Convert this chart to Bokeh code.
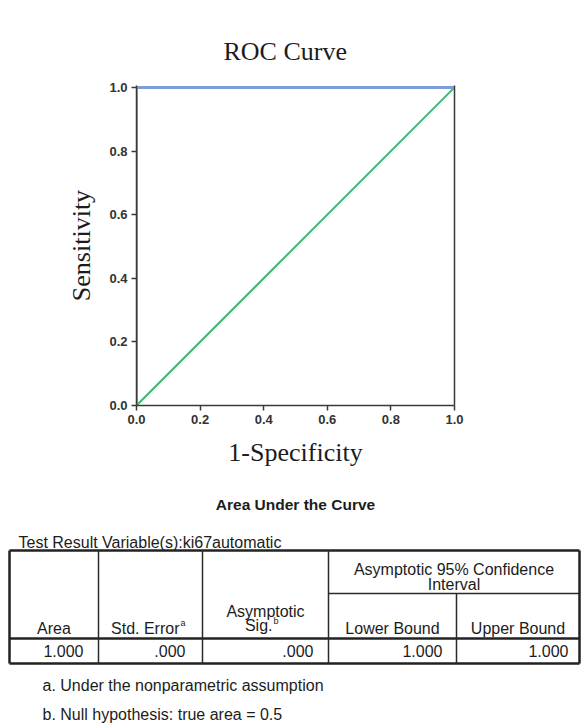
from bokeh.plotting import figure
from bokeh.models import Range1d, LinearAxis, FixedTicker
from bokeh.embed import file_html
from bokeh.resources import INLINE
from bokeh.core.properties import value

# ---------------- data ----------------
fpr = [0.0, 0.0, 1.0]          # ROC curve (1-Specificity)
tpr = [0.0, 1.0, 1.0]          # ROC curve (Sensitivity)
ref_x = [0.0, 1.0]             # reference line
ref_y = [0.0, 1.0]
tick_values = [0.0, 0.2, 0.4, 0.6, 0.8, 1.0]
tick_labels = ["0.0", "0.2", "0.4", "0.6", "0.8", "1.0"]

chart_title = "ROC Curve"
x_label = "1-Specificity"
y_label = "Sensitivity"

table_title = "Area Under the Curve"
test_variable = "ki67automatic"
ci_header = ["Asymptotic 95% Confidence", "Interval"]
col_headers = ["Area", "Std. Error", "Asymptotic", "Lower Bound", "Upper Bound"]
row_values = ["1.000", ".000", ".000", "1.000", "1.000"]
footnotes = ["a. Under the nonparametric assumption",
             "b. Null hypothesis: true area = 0.5"]

SERIF = "Liberation Serif"
SANS = "Liberation Sans"
INK = "#1c1c1c"
AXIS = "#3a3a3a"

# ---------------- ROC figure ----------------
p = figure(width=581, height=480,
           x_range=Range1d(0, 1), y_range=Range1d(0, 1.006),
           output_backend="svg", toolbar_location=None,
           min_border_left=136, min_border_right=127,
           min_border_top=85, min_border_bottom=75,
           title=chart_title)
p.background_fill_color = "white"
p.border_fill_color = "white"
p.outline_line_color = None
p.grid.visible = False

p.title.text_font = SERIF
p.title.text_font_size = "26px"
p.title.text_font_style = "normal"
p.title.text_color = INK
p.title.align = "left"
p.title.offset = 87
p.title.standoff = 39

p.line(ref_x, ref_y, line_color="#3DB872", line_width=2)
p.line(fpr, tpr, line_color="#7E9ED8", line_width=3)

for ax in (p.xaxis[0], p.yaxis[0]):
    ax.ticker = FixedTicker(ticks=tick_values)
    ax.major_label_overrides = {v: s for v, s in zip(tick_values, tick_labels)}
    ax.minor_tick_line_color = None
    ax.major_tick_in = 0
    ax.major_tick_out = 5
    ax.major_tick_line_color = AXIS
    ax.major_tick_line_width = 1.5
    ax.axis_line_color = AXIS
    ax.axis_line_width = 1.5
    ax.major_label_text_font = SANS
    ax.major_label_text_font_size = "13px"
    ax.major_label_text_font_style = "bold"
    ax.major_label_text_color = "#333333"
    ax.axis_label_text_font = SERIF
    ax.axis_label_text_font_size = "26px"
    ax.axis_label_text_font_style = "normal"
    ax.axis_label_text_color = INK

p.xaxis[0].axis_label = x_label
p.xaxis[0].major_label_standoff = 4
p.xaxis[0].axis_label_standoff = 11
p.yaxis[0].axis_label = y_label
p.yaxis[0].major_label_standoff = 4
p.yaxis[0].axis_label_standoff = 10

right = LinearAxis(ticker=FixedTicker(ticks=[]), major_tick_line_color=None,
                   minor_tick_line_color=None, major_label_text_font_size="0px",
                   axis_line_color=AXIS, axis_line_width=1.5)
p.add_layout(right, "right")

# ---------------- table figure (pixel coordinates) ----------------
W, H = 581, 243
t = figure(width=W, height=H, x_range=Range1d(0, W), y_range=Range1d(H, 0),
           output_backend="svg", toolbar_location=None,
           x_axis_location=None, y_axis_location=None, min_border=0)
t.grid.visible = False
t.outline_line_color = None
t.background_fill_color = "white"
t.border_fill_color = "white"

col_edges = [9, 98, 202, 328, 456, 579]
y_top, y_ci, y_head, y_bot = 70, 113, 158, 183

# horizontal rules
t.segment(x0=[col_edges[0]] * 3, y0=[y_top, y_head, y_bot],
          x1=[col_edges[-1]] * 3, y1=[y_top, y_head, y_bot],
          line_color="#222222", line_width=2.5)
t.segment(x0=[col_edges[3]], y0=[y_ci], x1=[col_edges[-1]], y1=[y_ci],
          line_color="#2a2a2a", line_width=1.5)
# vertical rules
t.segment(x0=[col_edges[0], col_edges[-1]], y0=[y_top, y_top],
          x1=[col_edges[0], col_edges[-1]], y1=[y_bot, y_bot],
          line_color="#222222", line_width=2.5)
t.segment(x0=col_edges[1:4], y0=[y_top] * 3, x1=col_edges[1:4], y1=[y_bot] * 3,
          line_color="#2a2a2a", line_width=1.5)
t.segment(x0=[col_edges[4]], y0=[y_ci], x1=[col_edges[4]], y1=[y_bot],
          line_color="#2a2a2a", line_width=1.5)


def txt(x, y, s, align="center", size="16px", style="normal", base="middle"):
    t.text(x=[x], y=[y], text=[s], text_align=align, text_baseline=base,
           text_font=value(SANS), text_font_size=size, text_font_style=style,
           text_color=INK)


txt(295, 24, table_title, size="15.5px", style="bold")
txt(18, 62, "Test Result Variable(s):" + test_variable, align="left")

ci_cx = (col_edges[3] + col_edges[5]) / 2
txt(ci_cx, 89, ci_header[0])
txt(ci_cx, 104, ci_header[1])

txt((col_edges[0] + col_edges[1]) / 2, 148, col_headers[0])
txt(179, 148, col_headers[1], align="right")
txt(180, 142, "a", align="left", size="9px")
txt((col_edges[2] + col_edges[3]) / 2, 131, col_headers[2])
txt(272, 145, "Sig.", align="right")
txt(273, 140, "b", align="left", size="9px")
txt((col_edges[3] + col_edges[4]) / 2, 148, col_headers[3])
txt((col_edges[4] + col_edges[5]) / 2, 148, col_headers[4])

pads = [15, 17, 15, 14, 11]
for i, v in enumerate(row_values):
    txt(col_edges[i + 1] - pads[i], 170, v, align="right")

txt(42, 205, footnotes[0], align="left")
txt(42, 234, footnotes[1], align="left")

open("out.html", "w").write(file_html([p, t], INLINE))
